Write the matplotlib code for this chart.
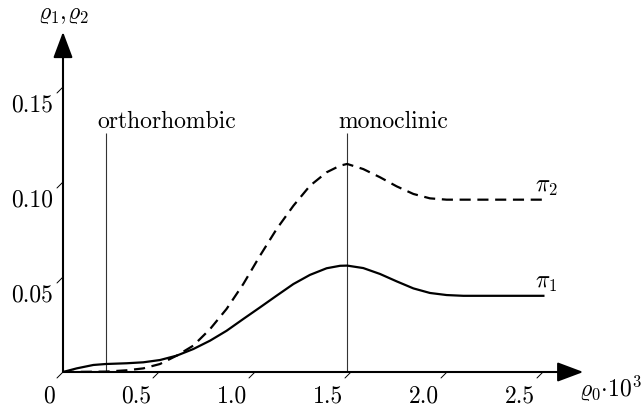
import numpy as np
import matplotlib
matplotlib.use("Agg")
import matplotlib.pyplot as plt

plt.rcParams['font.family'] = 'serif'
plt.rcParams['font.serif'] = ['cmr10', 'DejaVu Serif']
plt.rcParams['mathtext.fontset'] = 'cm'
plt.rcParams['axes.formatter.use_mathtext'] = True

# pi_1 (solid)
x1 = [0, 0.071, 0.158, 0.222, 0.332, 0.418, 0.505, 0.592, 0.679, 0.766, 0.852, 0.939,
      1.026, 1.113, 1.200, 1.286, 1.373, 1.443, 1.480, 1.564, 1.651, 1.738, 1.825,
      1.911, 1.998, 2.085, 2.502]
y1 = [0, 0.0019, 0.0037, 0.0042, 0.0046, 0.0051, 0.0063, 0.0086, 0.0121, 0.0165,
      0.0217, 0.0279, 0.0340, 0.0402, 0.0463, 0.0511, 0.0546, 0.0559, 0.0560, 0.0547,
      0.0516, 0.0477, 0.0440, 0.0416, 0.0405, 0.0401, 0.0401]

# pi_2 (dashed)
x2 = [0, 0.222, 0.332, 0.418, 0.505, 0.592, 0.679, 0.766, 0.852, 0.939, 1.026, 1.113,
      1.200, 1.286, 1.373, 1.443, 1.480, 1.564, 1.651, 1.738, 1.825, 1.911, 1.998,
      2.502]
y2 = [0, 0.0002, 0.0009, 0.0019, 0.0042, 0.0086, 0.0139, 0.0226, 0.0332, 0.0463,
      0.0612, 0.0753, 0.0875, 0.0980, 0.1051, 0.1086, 0.1095, 0.1068, 0.1025, 0.0977,
      0.0937, 0.0914, 0.0907, 0.0907]

xticks = [0.5, 1.0, 1.5, 2.0, 2.5]
xticklabels = ['0.5', '1.0', '1.5', '2.0', '2.5']
yticks = [0.05, 0.10, 0.15]
yticklabels = ['0.05', '0.10', '0.15']

phases = ['orthorhombic', 'monoclinic']
phase_x = [0.222, 1.478]
phase_top = 0.126

fs = 17
fig = plt.figure(figsize=(6.43, 4.10), dpi=100)
ax = fig.add_axes([63/643, 37/410, 566/643, 361/410])
ax.set_xlim(0, 566/192)
ax.set_ylim(0, 361/1900)
ax.axis('off')

# axes with arrows
arrow = dict(arrowstyle='-|>,head_length=0.8,head_width=0.3', lw=1.5, color='black',
             mutation_scale=20, shrinkA=0, shrinkB=0)
ax.annotate('', xy=(2.71, 0), xytext=(0, 0), arrowprops=arrow, annotation_clip=False)
ax.annotate('', xy=(0, 0.179), xytext=(0, 0), arrowprops=arrow, annotation_clip=False)

# slanted ticks
tick = dict(arrowstyle='-', lw=0.7, color='black', shrinkA=0, shrinkB=0)
for t, lab in zip([0] + xticks, ['0'] + xticklabels):
    ax.annotate('', xy=(t, 0), xytext=(-6, -6), textcoords='offset pixels',
                arrowprops=tick, annotation_clip=False)
    ax.annotate(lab, xy=(t, 0), xytext=(-8, -23), textcoords='offset pixels',
                ha='right', va='center', fontsize=fs, annotation_clip=False)
for t, lab in zip(yticks, yticklabels):
    ax.annotate('', xy=(0, t), xytext=(-6, -6), textcoords='offset pixels',
                arrowprops=tick, annotation_clip=False)
    ax.annotate(lab, xy=(0, t), xytext=(-10, -17), textcoords='offset pixels',
                ha='right', va='center', fontsize=fs, annotation_clip=False)

# phase boundaries
for px, name in zip(phase_x, phases):
    ax.vlines(px, 0, phase_top, color='#333333', lw=0.8)
    ax.annotate(name, xy=(px, phase_top), xytext=(-8, 6), textcoords='offset pixels',
                ha='left', va='baseline', fontsize=fs)

ax.plot(x1, y1, color='black', lw=1.6, solid_joinstyle='round')
ax.plot(x2, y2, color='black', lw=1.6, dashes=(5, 3), dash_joinstyle='round')

ax.text(2.458, 0.0447, r'$\pi_1$', fontsize=fs, ha='left', va='baseline')
ax.text(2.458, 0.0953, r'$\pi_2$', fontsize=fs, ha='left', va='baseline')

ax.text(0, 0.1885, r'$\varrho_1,\!\varrho_2$', fontsize=fs, ha='center', va='center')
ax.text(2.85, -0.0085, r'$\varrho_0{\cdot}10^3$', fontsize=fs, ha='center', va='center')

fig.savefig('out.png', dpi=100)
